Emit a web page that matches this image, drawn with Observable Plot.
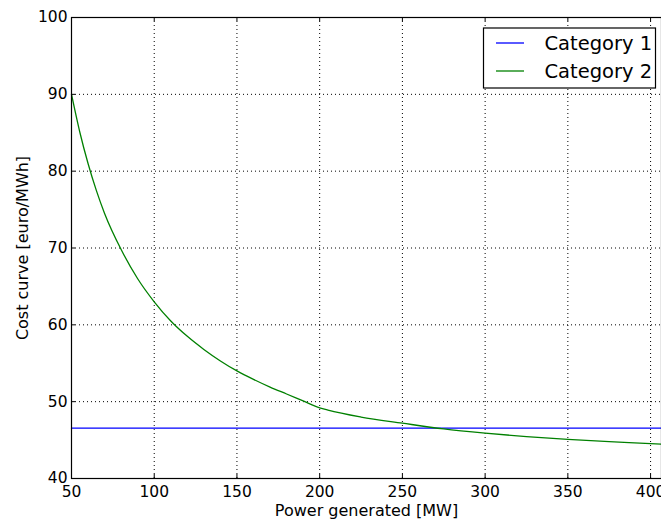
<!DOCTYPE html>
<html>
<head>
<meta charset="utf-8">
<script src="https://cdn.jsdelivr.net/npm/d3@7"></script>
<script src="https://cdn.jsdelivr.net/npm/@observablehq/plot@0.6"></script>
<style>
  html, body { margin: 0; padding: 0; background: #fff; }
  #chart { position: relative; width: 661px; height: 522px; }
  svg { font-family: "DejaVu Sans", sans-serif; }
</style>
</head>
<body>
<div id="chart"></div>
<script>
// Power output [MW] and cost [euro/MWh]
const category1Power = [50, 406.6];
const category1Cost = [46.55, 46.55];

const category2Power = [50, 55, 60, 65, 70, 80, 90, 100, 110, 120, 130, 140, 150, 160, 170, 180, 190, 200, 205, 225, 250, 275, 300, 325, 350, 375, 400, 406.6];
const category2Cost = [90.0, 85.1, 81.0, 77.5, 74.5, 69.8, 66.0, 63.0, 60.5, 58.5, 56.8, 55.3, 54.0, 52.9, 51.9, 51.0, 50.1, 49.2, 48.9, 48.0, 47.2, 46.45, 45.9, 45.45, 45.1, 44.8, 44.55, 44.47];

const xTicks = [50, 100, 150, 200, 250, 300, 350, 400];
const yTicks = [40, 50, 60, 70, 80, 90, 100];

const seriesNames = ["Category 1", "Category 2"];
const seriesColors = ["#0000ff", "#008000"];

const line1 = category1Power.map((p, i) => ({power: p, cost: category1Cost[i]}));
const line2 = category2Power.map((p, i) => ({power: p, cost: category2Cost[i]}));

const W = 661, H = 522;
const mL = 71, mT = 17, mB = 44, mR = 0;
const frameW = W - mL - mR, frameH = H - mT - mB;
const tickLen = 4;

const chart = Plot.plot({
  width: W,
  height: H,
  marginLeft: mL,
  marginTop: mT,
  marginBottom: mB,
  marginRight: mR,
  style: {fontFamily: "DejaVu Sans, sans-serif", fontSize: "15px", color: "#000", background: "#fff", overflow: "visible"},
  x: {domain: [50, 406.6]},
  y: {domain: [40, 100]},
  marks: [
    Plot.gridX(xTicks, {stroke: "#000", strokeOpacity: 1, strokeWidth: 1, strokeDasharray: "1,3"}),
    Plot.gridY(yTicks, {stroke: "#000", strokeOpacity: 1, strokeWidth: 1, strokeDasharray: "1,3"}),
    Plot.line(line1, {x: "power", y: "cost", stroke: seriesColors[0], strokeWidth: 1.3}),
    Plot.line(line2, {x: "power", y: "cost", stroke: seriesColors[1], strokeWidth: 1.3, curve: "monotone-x"}),
    Plot.frame({stroke: "#000", strokeWidth: 1.2}),
    // inward ticks on the bottom, top and left edges
    Plot.tickX(xTicks, {x: d => d, stroke: "#000", insetTop: frameH - tickLen}),
    Plot.tickX(xTicks, {x: d => d, stroke: "#000", insetBottom: frameH - tickLen}),
    Plot.tickY(yTicks, {y: d => d, stroke: "#000", insetRight: frameW - tickLen}),
    Plot.axisX(xTicks, {tickSize: 0, tickPadding: 7, fontSize: 15.5, label: null}),
    Plot.axisY(yTicks, {tickSize: 0, tickPadding: 4, fontSize: 15.5, label: null}),
    Plot.text(["Power generated [MW]"], {frameAnchor: "bottom", dy: 37, fontSize: 16, fill: "#000", textAnchor: "middle"}),
    Plot.text(["Cost curve [euro/MWh]"], {frameAnchor: "left", dx: -49, rotate: -90, fontSize: 16, fill: "#000", textAnchor: "middle"})
  ]
});

document.getElementById("chart").appendChild(chart);

// Legend box in the upper right of the plot area
const svg = d3.select(chart);
const legend = svg.append("g").attr("transform", "translate(483.5,28)");
legend.append("rect")
  .attr("width", 172).attr("height", 60)
  .attr("fill", "#fff").attr("stroke", "#000").attr("stroke-width", 1.2);
seriesNames.forEach((name, i) => {
  const y = 15 + i * 28;
  legend.append("line")
    .attr("x1", 12.5).attr("x2", 40.5).attr("y1", y).attr("y2", y)
    .attr("stroke", seriesColors[i]).attr("stroke-width", 1.3);
  legend.append("text")
    .attr("x", 61).attr("y", y).attr("dy", "0.36em")
    .attr("text-anchor", "start")
    .attr("font-size", 19.5).attr("fill", "#000")
    .text(name);
});
</script>
</body>
</html>
